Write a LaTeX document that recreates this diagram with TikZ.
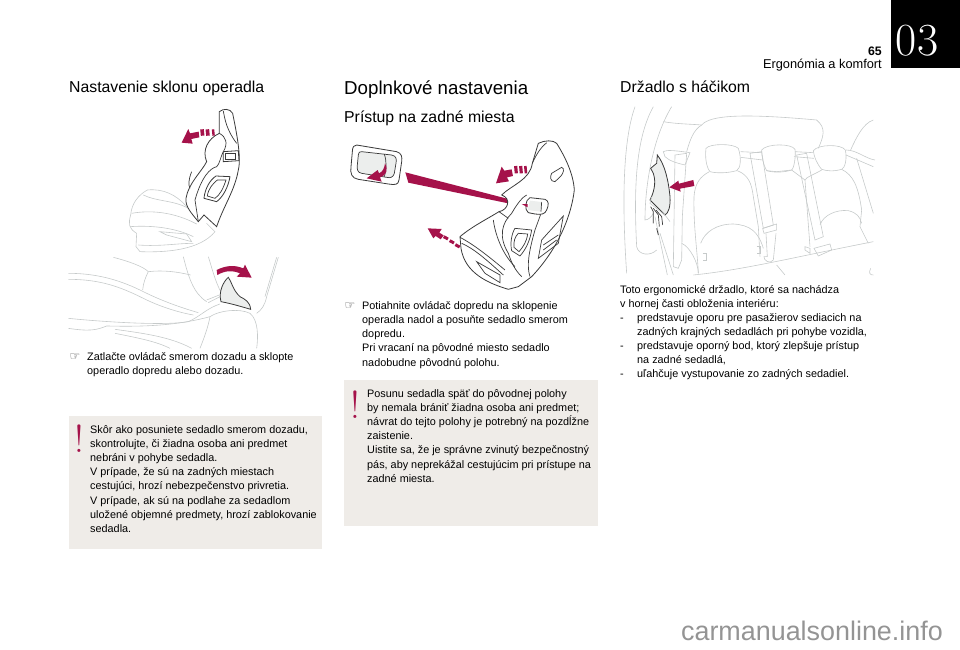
\documentclass[tikz,border=0pt]{standalone}
\usepackage{fontspec}
\newfontfamily\helv{Liberation Sans}
\newfontfamily\djv{DejaVu Sans}
\definecolor{crim}{HTML}{A5124A}
\definecolor{boxgrey}{HTML}{EFECE8}
\definecolor{fillgrey}{HTML}{ECEEED}
\definecolor{linegrey}{HTML}{C6CACA}
\definecolor{linedark}{HTML}{3A3A3A}
\newcommand{\listdash}{\llap{-\hspace{13.5pt}}}
\tikzset{
    bodytext/.style={anchor=north west,inner sep=0pt,align=left,font=\helv\fontsize{10.85}{14.2}\selectfont},
    headtext/.style={anchor=base west,inner sep=0pt,font=\helv\fontsize{15.8}{18}\selectfont},
    titletext/.style={anchor=base west,inner sep=0pt,font=\helv\fontsize{18.7}{24}\selectfont},
    handmark/.style={inner sep=0pt,text=black!75,font=\djv\fontsize{12}{12}\selectfont},
    warnmark/.style={inner sep=0pt,text=crim,font=\fontsize{39}{39}\selectfont},
    warnbox/.style={fill=boxgrey,draw=none},
    pale/.style={draw=linegrey,line width=0.6pt},
    dark/.style={draw=linedark,line width=0.7pt},
    tone/.style={fill=fillgrey,draw=linedark,line width=0.8pt},
    bluntarrow/.style={fill=crim,draw=none},
    dashpiece/.style={draw=crim}
}
\begin{document}
\begin{tikzpicture}[x=1pt,y=-1pt]
    \useasboundingbox (0,0) rectangle (960,649);
    % chapter corner
    \fill[black] (891,0) rectangle (960,68);
    \node[inner sep=0pt,text=white,font=\fontsize{46}{46}\selectfont] (chapter) at (917,41) {03};
    \node[anchor=base east,inner sep=0pt,font=\helv\bfseries\fontsize{12.3}{14}\selectfont] (pageno) at (882,55) {65};
    \node[anchor=base east,inner sep=0pt,font=\helv\fontsize{12.8}{14}\selectfont] (section) at (882,68.5) {Ergonómia a komfort};
    % headings
    \node[headtext] (headA) at (69,92) {Nastavenie sklonu operadla};
    \node[titletext] (title) at (344,94) {Doplnkové nastavenia};
    \node[headtext] (headB) at (344,122) {Prístup na zadné miesta};
    \node[headtext] (headC) at (620,92) {Držadlo s háčikom};
    % first column text
    \node[handmark] (handA) at (75,357) {☞};
    \node[bodytext] (textA) at (87,352) {Zatlačte ovládač smerom dozadu a sklopte\\operadlo dopredu alebo dozadu.};
    \fill[warnbox] (69,416) rectangle (322,549);
    \node[warnmark] (warnA) at (79.5,439) {!};
    \node[bodytext] (noteA) at (90,425) {Skôr ako posuniete sedadlo smerom dozadu,\\skontrolujte, či žiadna osoba ani predmet\\nebráni v pohybe sedadla.\\V prípade, že sú na zadných miestach\\cestujúci, hrozí nebezpečenstvo privretia.\\V prípade, ak sú na podlahe za sedadlom\\uložené objemné predmety, hrozí zablokovanie\\sedadla.};
    % second column text
    \node[handmark] (handB) at (350,306) {☞};
    \node[bodytext] (textB) at (362,301) {Potiahnite ovládač dopredu na sklopenie\\operadla nadol a posuňte sedadlo smerom\\dopredu.\\Pri vracaní na pôvodné miesto sedadlo\\nadobudne pôvodnú polohu.};
    \fill[warnbox] (344,380) rectangle (598,526);
    \node[warnmark] (warnB) at (355.5,405) {!};
    \node[bodytext] (noteB) at (367,389) {Posunu sedadla späť do pôvodnej polohy\\by nemala brániť žiadna osoba ani predmet;\\návrat do tejto polohy je potrebný na pozdĺžne\\zaistenie.\\Uistite sa, že je správne zvinutý bezpečnostný\\pás, aby neprekážal cestujúcim pri prístupe na\\zadné miesta.};
    % third column text
    \node[bodytext] (textC) at (620,285) {Toto ergonomické držadlo, ktoré sa nachádza\\v hornej časti obloženia interiéru:};
    \node[bodytext] (listC) at (637,313) {\listdash predstavuje oporu pre pasažierov sediacich na\\zadných krajných sedadlách pri pohybe vozidla,\\\listdash predstavuje oporný bod, ktorý zlepšuje prístup\\na zadné sedadlá,\\\listdash uľahčuje vystupovanie zo zadných sedadiel.};
    \node[anchor=base east,inner sep=0pt,text=black!42,font=\helv\fontsize{26.9}{28}\selectfont] (mark) at (943,640) {carmanualsonline.info};
    % reclining seat, zoom scale
    \begin{scope}[shift={(60,100)},x=0.3333pt,y=-0.3333pt]
        \draw[pale] (380,320) .. controls (350,285) and (310,265) .. (262,270) .. controls (235,285) and (215,310) .. (212,345) .. controls (205,370) and (205,385) .. (230,400) -- (228,440) -- (240,455) .. controls (320,458) and (420,450) .. (465,395) -- (440,370);
        \draw[pale] (215,340) .. controls (270,330) and (340,335) .. (410,372);
        \draw[pale] (250,285) .. controls (290,305) and (340,300) .. (385,325);
        \draw[pale] (210,380) .. controls (280,375) and (350,385) .. (400,410);
        \draw[pale] (300,395) -- (380,402) -- (395,425) -- (320,405) -- cycle;
        \draw[pale] (235,435) .. controls (300,440) and (350,430) .. (400,430);
        \draw[tone,fill=white] (478,35) .. controls (490,25) and (510,25) .. (518,40) .. controls (528,90) and (545,170) .. (535,210) .. controls (525,270) and (490,320) .. (470,380) -- (432,345) -- (415,365) .. controls (395,340) and (375,320) .. (378,295) .. controls (385,250) and (425,215) .. (440,185) .. controls (425,150) and (445,115) .. (478,100) -- cycle;
        \draw[dark] (478,100) .. controls (498,110) and (505,130) .. (490,155) .. controls (480,175) and (480,190) .. (470,200) .. controls (450,205) and (425,230) .. (405,300) -- (415,365);
        \draw[dark] (490,33) .. controls (495,60) and (500,90) .. (530,130);
        \draw[dark] (395,215) .. controls (385,240) and (385,255) .. (390,265);
        \draw[tone,fill=white] (490,155) -- (535,152) -- (537,182) -- (490,185) -- cycle;
        \draw[dark] (497,160) -- (525,160) -- (525,178) -- (497,178) -- cycle;
        \draw[tone,fill=white] (468,228) -- (510,230) .. controls (505,260) and (490,290) .. (470,305) -- (432,295) .. controls (435,265) and (450,240) .. (468,228) -- cycle;
        \draw[dark] (472,240) -- (498,240) .. controls (490,265) and (480,285) .. (465,295) -- (442,288) .. controls (445,265) and (460,250) .. (472,240) -- cycle;
        \fill[bluntarrow] (365,128) -- (385,87) -- (390,100) -- (416,95) -- (418,112) -- (394,117) -- (398,131) -- cycle;
        \foreach \dx/\wd in {426/3.6pt,442/3.6pt,459/2.4pt} \draw[dashpiece,line width=\wd] (\dx,88) -- (\dx+2,107);
        % pedal lever
        \draw[pale] (25,520) .. controls (120,520) and (190,545) .. (250,575) .. controls (310,605) and (370,625) .. (415,638);
        \draw[pale] (25,538) .. controls (120,538) and (180,560) .. (250,595) .. controls (310,625) and (370,640) .. (400,645);
        \draw[pale] (160,472) .. controls (210,485) and (250,500) .. (265,515) .. controls (255,535) and (250,550) .. (248,570);
        \draw[pale] (265,515) .. controls (310,510) and (350,515) .. (392,525);
        \draw[pale] (370,470) .. controls (385,530) and (400,580) .. (440,605);
        \draw[pale] (25,655) .. controls (70,660) and (300,680) .. (385,665) .. controls (420,650) and (440,625) .. (480,612);
        \draw[pale] (25,685) .. controls (90,695) and (110,690) .. (140,678) .. controls (230,680) and (340,680) .. (450,650) .. controls (480,630) and (540,625) .. (570,640) .. controls (595,660) and (595,710) .. (590,745);
        \draw[pale] (450,650) .. controls (445,680) and (430,720) .. (420,745);
        \draw[pale] (165,688) .. controls (250,700) and (330,710) .. (395,745);
        \draw[pale] (165,700) .. controls (240,715) and (290,725) .. (330,745);
        \draw[pale] (445,470) .. controls (455,500) and (465,545) .. (485,580);
        \draw[pale] (655,472) -- (620,590) .. controls (615,615) and (605,630) .. (590,640);
        \draw[pale] (650,472) -- (615,590);
        \draw[pale] (445,608) -- (480,590);
        \draw[pale] (440,600) -- (478,585);
        \draw[tone] (505,532) .. controls (515,545) and (518,570) .. (540,590) .. controls (555,598) and (570,605) .. (572,628) .. controls (545,620) and (510,610) .. (483,605) .. controls (475,575) and (490,545) .. (505,532) -- cycle;
        \fill[bluntarrow] (470,510) .. controls (500,495) and (525,495) .. (550,505) -- (555,494) -- (575,533) -- (530,530) -- (540,520) .. controls (515,510) and (495,512) .. (472,525) -- cycle;
    \end{scope}
    % pull-forward seat
    \begin{scope}[shift={(345,130)},x=0.3333pt,y=-0.3333pt]
        \draw[tone,fill=white] (35,45) -- (155,65) .. controls (170,70) and (172,80) .. (170,95) -- (162,150) .. controls (160,165) and (150,165) .. (130,162) -- (40,148) .. controls (20,145) and (15,130) .. (18,110) -- (22,65) .. controls (22,50) and (28,45) .. (35,45) -- cycle;
        \draw[dark,fill=fillgrey] (50,65) -- (140,75) .. controls (155,78) and (155,88) .. (153,100) -- (148,130) .. controls (145,142) and (135,145) .. (125,142) -- (50,130) .. controls (38,128) and (35,118) .. (37,105) -- (40,75) .. controls (42,65) and (45,65) .. (50,65) -- cycle;
        \draw[dark] (118,72) .. controls (125,95) and (125,115) .. (118,140);
        \fill[bluntarrow] (120,100) .. controls (130,120) and (125,135) .. (105,142) -- (110,155) -- (65,145) -- (98,120) -- (102,130) .. controls (115,125) and (118,112) .. (120,100) -- cycle;
        \fill[bluntarrow] (181,127) -- (190,158) -- (548,232) -- (548,222) -- cycle;
        \draw[tone,fill=white] (580,40) .. controls (600,30) and (625,30) .. (635,40) .. controls (660,80) and (685,130) .. (688,180) .. controls (680,250) and (645,350) .. (560,440) -- (520,470) -- (490,478) .. controls (430,460) and (360,430) .. (348,355) -- (345,320) .. controls (380,290) and (430,265) .. (462,245) .. controls (490,240) and (500,205) .. (470,195) .. controls (500,165) and (555,150) .. (562,100) -- cycle;
        \draw[dark] (562,100) .. controls (575,70) and (590,50) .. (605,38);
        \draw[dark] (500,250) .. controls (520,215) and (535,200) .. (545,195);
        \draw[dark] (462,245) -- (490,265);
        \draw[dark] (590,245) -- (570,300) .. controls (550,370) and (545,410) .. (555,440);
        \draw[dark] (500,250) .. controls (470,280) and (460,320) .. (490,370) .. controls (500,400) and (510,420) .. (530,440);
        \draw[dark] (445,270) .. controls (450,310) and (470,370) .. (510,410);
        \draw[dark,fill=white] (510,295) -- (560,300) .. controls (555,330) and (545,355) .. (525,378) -- (500,362) .. controls (495,340) and (500,310) .. (510,295) -- cycle;
        \draw[dark] (520,310) -- (548,312) .. controls (545,335) and (535,350) .. (522,365) -- (507,352) .. controls (505,335) and (510,320) .. (520,310) -- cycle;
        \draw[dark] (345,322) .. controls (380,340) and (420,370) .. (480,420);
        \draw[dark] (350,340) .. controls (385,355) and (420,385) .. (475,435);
        \draw[dark] (395,395) -- (465,435) -- (465,458) -- (420,430) -- cycle;
        \draw[dark] (590,330) -- (655,258) -- (640,340) -- (580,385) -- cycle;
        \draw[dark] (595,345) -- (640,315);
        \draw[dark] (595,360) -- (635,330);
        \draw[dark] (620,130) -- (650,112) .. controls (660,115) and (655,130) .. (648,138) -- (630,155) .. controls (615,155) and (615,140) .. (620,130) -- cycle;
        \draw[tone,fill=white] (555,203) -- (600,208) .. controls (612,212) and (612,225) .. (605,240) .. controls (600,252) and (590,255) .. (570,252) -- (550,248) .. controls (538,240) and (540,210) .. (555,203) -- cycle;
        \fill[fillgrey] (555,212) -- (590,216) -- (588,245) -- (548,240) -- cycle;
        \draw[dark] (590,216) -- (588,245);
        \fill[bluntarrow] (530,222) -- (548,222) -- (548,232) -- cycle;
        \fill[bluntarrow] (453,160) -- (470,110) -- (478,122) -- (500,118) -- (504,138) -- (486,142) -- (492,154) -- cycle;
        \foreach \dx/\wd in {512/3.2pt,527/3.2pt,541/2.6pt} \draw[dashpiece,line width=\wd] (\dx,108) -- (\dx+2,130);
        \fill[bluntarrow] (248,295) -- (290,297) -- (283,308) -- (296,316) -- (287,328) -- (272,318) -- (265,325) -- cycle;
        \foreach \dx/\dy in {296/320,314/332,331/344} \draw[dashpiece,line width=3pt] (\dx,\dy) -- (\dx+13,\dy+7);
    \end{scope}
    % rear bench
    \begin{scope}[shift={(610,100)},x=0.3333pt,y=-0.3333pt]
        \draw[pale] (75,20) .. controls (50,90) and (30,230) .. (50,520);
        \draw[pale] (130,20) .. controls (80,110) and (70,250) .. (80,440) .. controls (85,465) and (120,470) .. (140,450);
        \draw[pale] (185,20) .. controls (130,110) and (105,250) .. (105,360) .. controls (115,360) and (125,350) .. (130,340);
        \draw[pale] (160,65) .. controls (200,72) and (240,72) .. (275,75) .. controls (300,45) and (400,40) .. (620,60) .. controls (650,85) and (640,110) .. (625,145);
        \draw[pale] (275,75) .. controls (250,90) and (240,120) .. (230,155);
        \draw[pale] (790,60) .. controls (760,70) and (740,110) .. (722,150);
        \draw[pale] (160,155) .. controls (170,150) and (185,150) .. (240,158) -- (225,195) .. controls (205,190) and (180,185) .. (165,170) -- cycle;
        % head rests
        \draw[pale] (288,145) .. controls (300,130) and (370,130) .. (385,145) .. controls (395,175) and (392,205) .. (380,212) .. controls (350,220) and (320,220) .. (300,215) .. controls (288,200) and (285,170) .. (288,145) -- cycle;
        \draw[pale] (455,150) .. controls (470,130) and (545,130) .. (555,148) .. controls (558,170) and (552,205) .. (545,210) .. controls (520,218) and (490,218) .. (470,212) .. controls (460,195) and (455,170) .. (455,150) -- cycle;
        \draw[pale] (610,152) .. controls (625,132) and (695,132) .. (706,150) .. controls (712,175) and (705,205) .. (695,208) .. controls (670,215) and (650,213) .. (635,208) .. controls (620,190) and (612,170) .. (610,152) -- cycle;
        \draw[pale] (392,155) -- (455,158);\draw[pale] (392,172) -- (458,180);
        \draw[pale] (555,155) -- (610,158);\draw[pale] (552,170) -- (612,175);
        \draw[pale] (708,150) .. controls (740,150) and (765,175) .. (795,180);
        \draw[pale] (708,165) -- (790,200);
        % backs
        \draw[pale] (298,215) .. controls (270,230) and (255,250) .. (252,290) .. controls (250,380) and (262,450) .. (265,520);
        \draw[pale] (382,212) .. controls (415,225) and (425,250) .. (430,290) -- (445,380) -- (450,470);
        \draw[pale] (470,212) -- (500,215) -- (545,210);
        \draw[pale] (545,210) -- (585,240) -- (600,440);
        \draw[pale] (635,210) .. controls (610,225) and (590,230) .. (585,240);
        \draw[pale] (695,208) .. controls (730,225) and (745,260) .. (755,330) -- (750,380) -- (775,430);
        \draw[pale] (272,430) .. controls (285,395) and (320,372) .. (370,372) .. controls (420,375) and (445,395) .. (460,445);
        \draw[pale] (630,375) .. controls (640,345) and (680,328) .. (715,332) .. controls (740,338) and (750,350) .. (755,370);
        % belts
        \draw[pale] (195,165) -- (230,160) -- (217,350) -- (215,480) -- (205,505) -- (190,500) -- cycle;
        \draw[pale] (420,160) -- (455,155) -- (490,375) -- (460,385) -- cycle;
        \draw[pale] (560,165) -- (590,160) -- (640,410) -- (615,420) -- cycle;
        \draw[pale] (740,175) -- (790,340);
        \draw[pale] (458,385) -- (500,372) -- (500,390) -- (462,400) -- cycle;
        \draw[pale] (468,400) -- (472,470) -- (462,470) .. controls (460,480) and (480,495) .. (490,480) -- (498,400);
        \draw[pale] (612,445) -- (660,432) -- (665,450) -- (625,468) -- cycle;
        \draw[pale] (585,440) -- (600,445) -- (600,460) -- (585,450) -- cycle;
        \draw[pale] (278,460) -- (290,460) -- (290,480) -- (278,480);
        \draw[pale] (440,440) -- (450,440) -- (450,460) -- (440,460);
        % cushion
        \draw[pale] (150,400) -- (190,525);
        \draw[pale] (135,350) -- (172,525);
        \draw[pale] (250,525) .. controls (400,510) and (560,470) .. (790,425);
        \draw[pale] (500,495) -- (525,525);
        \draw[pale] (215,430) .. controls (240,440) and (265,490) .. (265,520);
        \draw[pale] (782,505) .. controls (775,520) and (780,525) .. (790,525);
        % grab handle
        \draw[tone] (142,165) .. controls (165,195) and (175,240) .. (180,290) .. controls (182,320) and (175,340) .. (165,345) -- (140,320) -- (120,300) .. controls (130,280) and (140,250) .. (130,220) -- (122,205) -- (140,190) -- cycle;
        \draw[dark] (122,320) -- (130,335) -- (130,370);
        \draw[dark] (130,325) -- (145,345) -- (148,380);
        \draw[dark] (138,330) -- (155,350) -- (158,375);
        \draw[dark] (140,385) -- (145,405);
        \draw[pale] (125,290) -- (120,310) -- (165,345) -- (180,365);
        \fill[bluntarrow] (178,262) -- (205,242) -- (207,251) -- (250,240) -- (253,258) -- (210,266) -- (212,275) -- cycle;
    \end{scope}
\end{tikzpicture}
\end{document}
